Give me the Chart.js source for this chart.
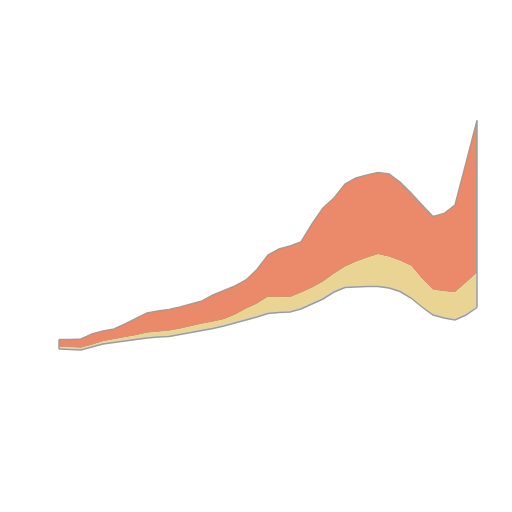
<!DOCTYPE html>
<html>
<head>
<meta charset="utf-8">
<script src="https://cdn.jsdelivr.net/npm/chart.js@4"></script>
<style>
  html, body { margin: 0; padding: 0; background: #fff; }
  #wrap { width: 512px; height: 512px; }
</style>
</head>
<body>
<div id="wrap"><canvas id="streamChart"></canvas></div>
<script>
// stream layers (39 steps)
const steps = Array.from({length: 39}, (_, i) => i);
const baseline = [163, 162.5, 162, 165, 168, 169.5, 171, 172.5, 174, 175, 175.5, 177.5, 179.5, 181.5, 183.5, 186, 189, 192, 195, 198.5,
                  199.5, 200, 203, 208, 213, 220, 224.5, 225, 225.5, 225.5, 224, 220.5, 214, 205, 197, 194, 192, 197, 204.5];
const yellowLayer = [2, 2, 2, 2, 2.5, 3, 3.5, 4, 5, 5, 5.5, 5.5, 6, 6.5, 6.5, 6.5, 8, 11, 13, 16.5,
                     15.5, 14.5, 16, 16, 17, 18, 20.5, 25, 28.5, 32, 31, 30.5, 32, 28, 25, 26.5, 27.5, 32, 34.5];
const orangeLayer = [7.5, 8, 9, 11, 10.5, 10.5, 13.5, 17, 20, 21, 21.5, 22, 22.5, 23, 27, 29, 29, 29, 34.5, 42,
                     48, 51.5, 51, 64, 74, 76, 83, 84, 83, 82, 83, 79, 73, 74, 73.5, 78, 87.5, 120, 152.5];

const edge = '#9a9e9e';

// close the stream at both ends with a grey edge, like the outline elsewhere
const endEdges = {
    id: 'endEdges',
    afterDatasetsDraw(chart) {
        const base = chart.getDatasetMeta(0).data;
        const top = chart.getDatasetMeta(2).data;
        const c = chart.ctx;
        c.save();
        c.strokeStyle = edge;
        c.lineWidth = 1.5;
        [0, base.length - 1].forEach(i => {
            c.beginPath();
            c.moveTo(base[i].x, base[i].y);
            c.lineTo(top[i].x, top[i].y);
            c.stroke();
        });
        c.restore();
    }
};

const ctx = document.getElementById('streamChart').getContext('2d');
new Chart(ctx, {
    type: 'line',
    data: {
        labels: steps,
        datasets: [
            {
                label: 'base',
                data: baseline,
                borderColor: edge,
                borderWidth: 1.5,
                backgroundColor: 'rgba(0,0,0,0)',
                pointRadius: 0,
                tension: 0,
                fill: false
            },
            {
                label: 'yellow',
                data: yellowLayer,
                borderColor: 'rgba(0,0,0,0)',
                borderWidth: 0,
                backgroundColor: '#ead494',
                pointRadius: 0,
                tension: 0,
                fill: '-1'
            },
            {
                label: 'orange',
                data: orangeLayer,
                borderColor: edge,
                borderWidth: 1.5,
                backgroundColor: '#ea8a6b',
                pointRadius: 0,
                tension: 0,
                fill: '-1'
            }
        ]
    },
    options: {
        responsive: true,
        maintainAspectRatio: false,
        animation: false,
        layout: { padding: { left: 59, right: 35, top: 0, bottom: 0 } },
        plugins: { legend: { display: false }, tooltip: { enabled: false } },
        scales: {
            x: { display: false, offset: false },
            y: { display: false, stacked: true, min: 0, max: 512 }
        }
    },
    plugins: [endEdges]
});
</script>
</body>
</html>
